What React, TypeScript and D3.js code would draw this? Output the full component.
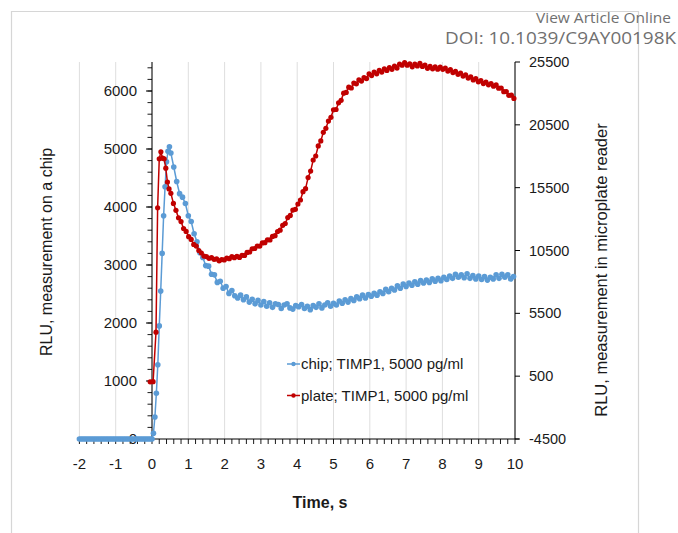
import React from "react";
import * as d3 from "d3";

// ---------- DATA ----------
const xTicks = [-2, -1, 0, 1, 2, 3, 4, 5, 6, 7, 8, 9, 10];
const leftTicks = [0, 1000, 2000, 3000, 4000, 5000, 6000];
const rightTicks = [-4500, 500, 5500, 10500, 15500, 20500, 25500];

// chip series (left axis), sampled in three segments
const chipBaseStart = -2;
const chipBaseStep = 0.05;
const chipBaseline = [
  0, 0, 0, 0, 0, 0, 0, 0, 0, 0, 0, 0, 0, 0, 0, 0, 0, 0, 0, 0, 0,
  0, 0, 0, 0, 0, 0, 0, 0, 0, 0, 0, 0, 0, 0, 0, 0, 0, 0, 0, 0,
];
const chipRiseStart = 0.04;
const chipRiseStep = 0.04;
const chipRise = [100, 380, 790, 1280, 1950, 2550, 3200, 3850, 4350, 4780, 4960, 5040];
const chipDecayStart = 0.52;
const chipDecayStep = 0.08;
const chipDecay = [
  4930, 4690, 4440, 4230, 4170, 4060, 3850, 3750, 3540, 3400,
  3210, 3130, 2990, 2980, 2840, 2830, 2700, 2720, 2600, 2630,
  2510, 2560, 2470, 2430, 2480, 2400, 2450, 2360, 2410, 2330,
  2390, 2310, 2370, 2290, 2350, 2270, 2330, 2320, 2250, 2310,
  2330, 2260, 2240, 2300, 2280, 2320, 2250, 2290, 2230, 2300,
  2270, 2330, 2260, 2310, 2350, 2290, 2340, 2310, 2380, 2340,
  2400, 2360, 2420, 2390, 2450, 2420, 2480, 2430, 2490, 2460,
  2510, 2480, 2540, 2510, 2580, 2540, 2600, 2570, 2640, 2600,
  2670, 2630, 2690, 2650, 2710, 2670, 2730, 2690, 2740, 2700,
  2760, 2720, 2770, 2730, 2790, 2750, 2810, 2770, 2840, 2790,
  2830, 2780, 2850, 2770, 2820, 2760, 2810, 2750, 2800, 2740,
  2790, 2760, 2830, 2770, 2840, 2790, 2830, 2760, 2800,
];

// plate series (right axis)
const plateEarlyT = [-0.05, 0.03, 0.11, 0.155, 0.2, 0.245, 0.29, 0.335, 0.38, 0.425, 0.47];
const plateEarlyV = [50, 60, 4000, 13900, 17800, 18350, 17850, 17800, 17050, 15950, 15400];
const plateMainStart = 0.52;
const plateMainStep = 0.07;
const plateMain = [
  15050, 14250, 13700, 13100, 12800, 12250, 12020, 11600, 11380, 10980,
  10850, 10500, 10300, 10060, 10020, 9880, 9930, 9800, 9830, 9680,
  9780, 9750, 9900, 9850, 10010, 9930, 10030, 9950, 10120, 10110,
  10350, 10380, 10640, 10660, 10860, 10850, 11100, 11120, 11350, 11340,
  11620, 11680, 12010, 12120, 12500, 12650, 13120, 13290, 13720, 13780,
  14200, 14520, 15180, 15420, 16300, 16820, 17700, 18020, 18820, 19220,
  19900, 20220, 20800, 21100, 21700, 21720, 22250, 22450, 23020, 23080,
  23500, 23430, 23820, 23760, 24080, 23980, 24250, 24180, 24550, 24420,
  24700, 24560, 24830, 24700, 24950, 24830, 25060, 24920, 25170, 25020,
  25330, 25240, 25450, 25250, 25350, 25120, 25330, 25180, 25400, 25150,
  25260, 25000, 25150, 24960, 25120, 24930, 25100, 24920, 25020, 24780,
  24900, 24660, 24760, 24520, 24620, 24380, 24470, 24220, 24320, 24070,
  24170, 23920, 24010, 23780, 23900, 23680, 23790, 23580, 23680, 23420,
  23430, 23140, 23150, 22850, 22860, 22600,
];

const chipLabel = "chip; TIMP1, 5000 pg/ml";
const plateLabel = "plate; TIMP1, 5000 pg/ml";

// ---------- BUILD ----------
type P = { t: number; v: number };
const seg = (start: number, step: number, vals: number[]): P[] =>
  vals.map((v, i) => ({ t: +(start + i * step).toFixed(4), v }));

const chipData: P[] = [
  ...seg(chipBaseStart, chipBaseStep, chipBaseline),
  ...seg(chipRiseStart, chipRiseStep, chipRise),
  ...seg(chipDecayStart, chipDecayStep, chipDecay),
];
const plateData: P[] = [
  ...plateEarlyT.map((t, i) => ({ t, v: plateEarlyV[i] })),
  ...seg(plateMainStart, plateMainStep, plateMain),
];

const W = 678;
const H = 533;
const BLUE = "#5B9BD5";
const RED = "#C00000";
const FONT = "'Liberation Sans', Arial, sans-serif";

export default function App() {
  const x = d3.scaleLinear().domain([-2, 10]).range([79.4, 515]);
  const yL = d3.scaleLinear().domain([0, 6500]).range([439, 62]);
  const yR = d3.scaleLinear().domain([-4500, 25500]).range([439, 62]);

  const chipLine = d3.line<P>().x((d) => x(d.t)).y((d) => yL(d.v));
  const plateLine = d3.line<P>().x((d) => x(d.t)).y((d) => yR(d.v));

  const xMinor = d3.range(-2, 10.001, 0.2);
  const lMinor = d3.range(0, 6500.1, 200);

  return (
    <svg
      width={W}
      height={H}
      style={{ position: "absolute", left: 0, top: 0, background: "#fff" }}
      fontFamily={FONT}
    >
      <rect x={0} y={0} width={W} height={H} fill="#fff" />
      {/* page frame */}
      <path d="M11.5,533 V11.5 H638.5 V533" fill="none" stroke="#d6d6d6" strokeWidth={1.2} />
      <text
        x={671}
        y={23}
        textAnchor="end"
        fontSize={14}
        fill="#707070"
        fontFamily="'Open Sans', sans-serif"
        textLength={135}
        lengthAdjust="spacingAndGlyphs"
      >
        View Article Online
      </text>
      <text
        x={676}
        y={44}
        textAnchor="end"
        fontSize={16}
        fill="#707070"
        fontFamily="'Open Sans', sans-serif"
        textLength={231}
        lengthAdjust="spacingAndGlyphs"
      >
        DOI: 10.1039/C9AY00198K
      </text>

      {/* vertical gridlines */}
      {xTicks.map((t) => (
        <line key={"g" + t} x1={x(t)} x2={x(t)} y1={62} y2={439} stroke="#dedede" strokeWidth={1} />
      ))}

      {/* x axis */}
      <line x1={x(-2)} x2={x(10) + 4} y1={439} y2={439} stroke="#000" strokeWidth={1} />
      {xMinor.map((t, i) => (
        <line key={"xm" + i} x1={x(t)} x2={x(t)} y1={439} y2={444} stroke="#000" strokeWidth={0.9} />
      ))}
      {xTicks.map((t) => (
        <text key={"xl" + t} x={x(t)} y={469} textAnchor="middle" fontSize={15} fill="#1a1a1a">
          {t}
        </text>
      ))}
      <text x={320} y={508} textAnchor="middle" fontSize={16} fontWeight="bold" fill="#1a1a1a">
        Time, s
      </text>

      {/* left axis */}
      <line x1={x(0)} x2={x(0)} y1={62} y2={439} stroke="#000" strokeWidth={1} />
      {lMinor.map((v, i) => (
        <line key={"lm" + i} x1={x(0) - 4.5} x2={x(0)} y1={yL(v)} y2={yL(v)} stroke="#000" strokeWidth={0.9} />
      ))}
      {leftTicks.map((v) => (
        <g key={"lt" + v}>
          <line x1={x(0) - 6} x2={x(0)} y1={yL(v)} y2={yL(v)} stroke="#000" strokeWidth={1} />
          <text x={137} y={yL(v) + 5} textAnchor="end" fontSize={15} fill="#1a1a1a">
            {v}
          </text>
        </g>
      ))}
      <text
        transform={`translate(52,252) rotate(-90)`}
        textAnchor="middle"
        fontSize={16}
        fill="#1a1a1a"
      >
        RLU, measurement on a chip
      </text>

      {/* right axis */}
      <line x1={x(10)} x2={x(10)} y1={62} y2={439} stroke="#000" strokeWidth={1} />
      {rightTicks.map((v) => (
        <g key={"rt" + v}>
          <line x1={x(10)} x2={x(10) + 5} y1={yR(v)} y2={yR(v)} stroke="#000" strokeWidth={1} />
          <text x={529} y={yR(v) + 5} textAnchor="start" fontSize={14.5} fill="#1a1a1a">
            {v}
          </text>
        </g>
      ))}
      <text
        transform={`translate(607,270) rotate(-90)`}
        textAnchor="middle"
        fontSize={16.5}
        fill="#1a1a1a"
      >
        RLU, measurement in microplate reader
      </text>

      {/* chip series */}
      <path d={chipLine(chipData) || ""} fill="none" stroke={BLUE} strokeWidth={1.5} />
      {chipData.map((d, i) => (
        <circle key={"c" + i} cx={x(d.t)} cy={yL(d.v)} r={2.8} fill={BLUE} />
      ))}

      {/* plate series */}
      <path d={plateLine(plateData) || ""} fill="none" stroke={RED} strokeWidth={1.5} />
      {plateData.map((d, i) => (
        <circle key={"p" + i} cx={x(d.t)} cy={yR(d.v)} r={2.6} fill={RED} />
      ))}

      {/* legend */}
      <g>
        <line x1={287} x2={300} y1={364} y2={364} stroke={BLUE} strokeWidth={1.5} />
        <circle cx={293.5} cy={364} r={2.2} fill={BLUE} />
        <text x={301} y={369} fontSize={15} fill="#1a1a1a">
          {chipLabel}
        </text>
        <line x1={287} x2={300} y1={395.5} y2={395.5} stroke={RED} strokeWidth={1.5} />
        <circle cx={293.5} cy={395.5} r={2.2} fill={RED} />
        <text x={301} y={400.5} fontSize={15} fill="#1a1a1a">
          {plateLabel}
        </text>
      </g>
    </svg>
  );
}
